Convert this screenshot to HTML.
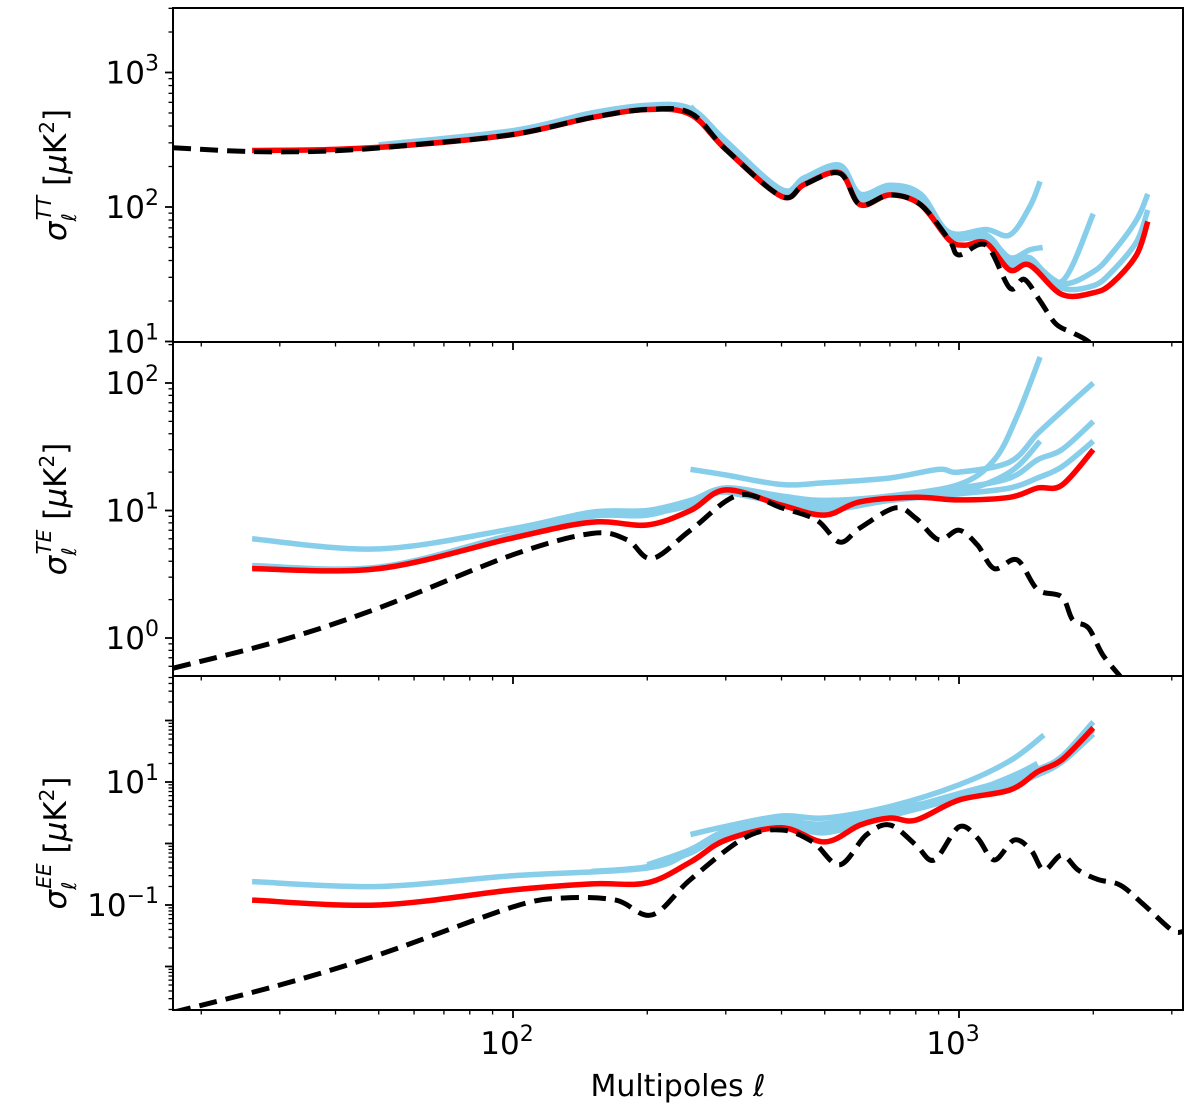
<!DOCTYPE html>
<html><head><meta charset="utf-8"><style>
body{margin:0;background:#fff;}
svg{display:block;font-family:"DejaVu Sans","Liberation Sans",sans-serif;}
</style></head><body>
<svg id="chart" width="1200" height="1116" viewBox="0 0 1200 1116" xmlns="http://www.w3.org/2000/svg"></svg>
<script>
// ---- data ----
const ttEll = [26,40,60,100,150,200,250,300,400,450,540,600,700,820,950,1030,1150,1300,1440,1700,2000,2200,2500,2650];
const ttRed = [263,268,290,346,462,531,487,268,120,147,180,104,123,104,57,52,54,34,37,22.4,23,27,44,78];
const ttBlackEll = [17.3,26,40,60,100,150,200,250,300,400,450,540,600,700,820,950,1000,1150,1300,1400,1520,1650,1800,1950,2200];
const ttBlack = [276,258,262,290,346,462,531,500,268,120,147,178,104,123,104,57,44,52,25,29,20,13.5,11.6,10,7];
const ttBlue1Ell = [50,100,150,200,250,300,400,450,540,600,700,820,950,1150,1300,1440,1520];
const ttBlue1 = [290,370,500,570,540,310,135,165,205,125,145,125,65,68,62,100,155];
const ttBlue2Ell = [250,300,400,450,540,600,700,820,950,1150,1300,1440,1700,2000];
const ttBlue2 = [560,300,130,160,195,118,140,120,63,62,40,42,28,89];
const ttBlue3Ell = [250,300,400,450,540,600,700,820,950,1150,1300,1440,1700,2000,2200,2500,2650];
const ttBlue3 = [540,290,128,155,190,112,135,115,62,60,38,40,27,33,45,80,125];
const ttBlue4Ell = [300,400,450,540,600,700,820,950,1150,1300,1440,1700,2000,2200,2500,2650];
const ttBlue4 = [280,125,152,185,110,130,112,60,58,36,38,25,26,33,55,95];
const ttBlue5Ell = [300,400,450,540,600,700,820,950,1150,1300,1440,1540];
const ttBlue5 = [285,127,157,195,116,138,118,62,60,42,48,50];

const teEll = [26,50,100,150,200,250,300,400,500,600,800,1000,1300,1500,1700,2000];
const teRed = [3.5,3.5,6.1,8.1,7.7,10,14.5,11,9.2,11.7,12.7,12.1,12.7,15,15.8,30];
const teBlackEll = [17.3,30,50,100,150,180,205,250,320,400,480,540,600,720,800,900,1000,1100,1200,1350,1500,1700,1800,1950,2100,2300];
const teBlack = [0.58,0.95,1.72,4.5,6.6,5.9,4.2,7.0,13.2,10.5,8.4,5.65,7.3,10.5,8.7,5.9,7.0,5.35,3.5,4.1,2.4,2.1,1.38,1.2,0.74,0.5];
const teBlue1Ell = [26,50,100,150,200,250,300,400,500,700,1000,1200,1350,1520];
const teBlue1 = [6.0,5.0,7.2,9.7,10,12,15,13,12,13,16,25,55,160];
const teBlue2Ell = [250,300,400,500,700,900,1000,1300,1500,1700,2000];
const teBlue2 = [21,19,16,16.5,18,21,20,24,40,60,100];
const teBlue3Ell = [26,50,100,150,200,250,300,400,500,700,1000,1300,1500,1700,2000];
const teBlue3 = [3.7,3.6,6.5,9,9.5,11,15,12.5,11,13,15,18,25,30,50];
const teBlue4Ell = [100,150,200,250,300,400,500,700,1000,1300,1520];
const teBlue4 = [6.5,9,9.2,11.5,14,12,11,12.5,14,20,35];
const teBlue5Ell = [300,400,500,700,1000,1300,1500,1700,2000];
const teBlue5 = [14,11.5,10,12,13.5,15,18,22,35];

const eeEll = [26,50,100,150,200,250,300,400,500,600,700,800,1000,1300,1500,1700,2000];
const eeRed = [0.12,0.1,0.176,0.22,0.23,0.5,1.14,1.8,1.06,2.0,2.6,2.4,5.1,7.4,14.6,23,76];
const eeBlackEll = [17.3,30,50,100,130,170,205,250,330,400,470,540,620,700,800,880,1000,1100,1200,1330,1450,1550,1700,1850,2050,2300,2600,3000,3180];
const eeBlack = [0.0018,0.005,0.0155,0.093,0.13,0.12,0.069,0.26,1.23,1.66,1.06,0.45,1.38,2.0,0.95,0.54,1.86,1.23,0.54,1.14,0.78,0.37,0.65,0.37,0.26,0.21,0.1,0.039,0.037];
const eeBlue1Ell = [26,50,100,200,250,300,400,500,700,1000,1300,1500];
const eeBlue1 = [0.24,0.2,0.3,0.4,0.75,1.5,2.3,2.1,3.5,6,12,20];
const eeBlue2Ell = [250,300,400,500,700,1000,1300,1550];
const eeBlue2 = [1.4,1.9,2.8,2.6,4,9,22,58];
const eeBlue3Ell = [200,250,300,400,500,700,1000,1300,1500,1700,2000];
const eeBlue3 = [0.45,0.8,1.6,2.4,2.0,3.2,6.5,11,16,26,95];
const eeBlue4Ell = [150,200,250,300,400,500,700,1000,1300,1500,1700,2000];
const eeBlue4 = [0.35,0.42,0.7,1.4,2.0,1.7,3.0,6,10,14,24,70];
const eeBlue5Ell = [300,400,500,700,1000,1300,1500,1700,2000];
const eeBlue5 = [1.3,2.0,1.5,2.8,5.5,9,13,21,60];

// ---- layout ----
const NS = "http://www.w3.org/2000/svg";
const svg = document.getElementById('chart');
const X0 = 173, X1 = 1183;
const xLogMin = 2 - 340/446, xLogMax = 3 + 224/446;
function xs(v){ return X0 + (Math.log10(v) - xLogMin) / (xLogMax - xLogMin) * (X1 - X0); }

const panels = [
  {name:'tt', top:8, bot:342, ref:207, refLog:2, dec:134.5, labels:[1,2,3], lab:'TT',
   series:[[ttBlue1Ell,ttBlue1],[ttBlue2Ell,ttBlue2],[ttBlue3Ell,ttBlue3],[ttBlue4Ell,ttBlue4],[ttBlue5Ell,ttBlue5]], red:[ttEll,ttRed], black:[ttBlackEll,ttBlack]},
  {name:'te', top:342, bot:676, ref:638, refLog:0, dec:127.5, labels:[0,1,2], lab:'TE',
   series:[[teBlue1Ell,teBlue1],[teBlue2Ell,teBlue2],[teBlue3Ell,teBlue3],[teBlue4Ell,teBlue4],[teBlue5Ell,teBlue5]], red:[teEll,teRed], black:[teBlackEll,teBlack]},
  {name:'ee', top:676, bot:1010, ref:843.5, refLog:0, dec:61.5, labels:[-1,1], lab:'EE',
   series:[[eeBlue1Ell,eeBlue1],[eeBlue2Ell,eeBlue2],[eeBlue3Ell,eeBlue3],[eeBlue4Ell,eeBlue4],[eeBlue5Ell,eeBlue5]], red:[eeEll,eeRed], black:[eeBlackEll,eeBlack]}
];

function mk(tag, attrs, parent){
  const e = document.createElementNS(NS, tag);
  for (const k in attrs) e.setAttribute(k, attrs[k]);
  (parent||svg).appendChild(e);
  return e;
}

function smooth(pts){
  let d = 'M' + pts[0][0].toFixed(1) + ',' + pts[0][1].toFixed(1);
  for (let i = 0; i < pts.length - 1; i++){
    const p0 = pts[i-1] || pts[i], p1 = pts[i], p2 = pts[i+1], p3 = pts[i+2] || p2;
    const c1x = p1[0] + (p2[0]-p0[0])/6, c1y = p1[1] + (p2[1]-p0[1])/6;
    const c2x = p2[0] - (p3[0]-p1[0])/6, c2y = p2[1] - (p3[1]-p1[1])/6;
    d += ' C' + c1x.toFixed(1)+','+c1y.toFixed(1)+' '+c2x.toFixed(1)+','+c2y.toFixed(1)+' '+p2[0].toFixed(1)+','+p2[1].toFixed(1);
  }
  return d;
}

const defs = mk('defs', {});
panels.forEach(p => {
  const cp = mk('clipPath', {id:'clip-'+p.name}, defs);
  mk('rect', {x:X0, y:p.top, width:X1-X0, height:p.bot-p.top}, cp);
});

panels.forEach(p => {
  const ys = v => p.ref - (Math.log10(v) - p.refLog) * p.dec;
  const g = mk('g', {'clip-path':'url(#clip-'+p.name+')'});
  
  
  const path = (ell, vals) => smooth(ell.map((e,i)=>[xs(e), ys(vals[i])]));
  p.series.forEach((s,i) => {
    const l = mk('path', {d:path(s[0],s[1]), fill:'none', stroke:'#87ceeb', 'stroke-width':5.5, 'stroke-linejoin':'round'}, g);
    
    
  });
  const r = mk('path', {d:path(p.red[0],p.red[1]), fill:'none', stroke:'#ff0000', 'stroke-width':5.5, 'stroke-linejoin':'round'}, g);
  
  
  const b = mk('path', {d:path(p.black[0],p.black[1]), fill:'none', stroke:'#000', 'stroke-width':5, 'stroke-dasharray':'18,9'}, g);
  
  

  const f = mk('rect', {x:X0, y:p.top, width:X1-X0, height:p.bot-p.top, fill:'none', stroke:'#000', 'stroke-width':2});
  
  

  const lo = p.refLog - (p.bot - p.ref)/p.dec, hi = p.refLog + (p.ref - p.top)/p.dec;
  for (let d = Math.floor(lo); d <= Math.ceil(hi); d++){
    for (let m = 1; m <= 9; m++){
      const lv = d + Math.log10(m);
      if (lv < lo - 1e-6 || lv > hi + 1e-6) continue;
      const y = p.ref - (lv - p.refLog)*p.dec;
      const len = m===1 ? 8 : 4.5;
      mk('line', {x1:X0-len, x2:X0, y1:y, y2:y, stroke:'#000', 'stroke-width':m===1?1.8:1.3});
    }
  }
  p.labels.forEach(d => {
    const y = p.ref - (d - p.refLog)*p.dec;
    const t = mk('text', {x:X0-14, y:y+11, 'text-anchor':'end', 'font-size':31, fill:'#000'});
    
    
    t.innerHTML = '10<tspan dy="-13" font-size="22">' + (d<0?'\u2212'+(-d):d) + '</tspan>';
  });
  const cy = (p.top+p.bot)/2;
  const tt = mk('text', {x:0, y:0, transform:'translate(66,'+cy+') rotate(-90)', 'text-anchor':'middle', 'font-size':31, fill:'#000'});
  
  
  tt.innerHTML = '<tspan font-style="italic">σ</tspan><tspan font-style="italic" font-size="20" dy="10">ℓ</tspan><tspan font-style="italic" font-size="20" dy="-25" dx="-7">' + p.lab + '</tspan><tspan dy="15"> [</tspan><tspan font-style="italic">μ</tspan>K<tspan dy="-12" font-size="20">2</tspan><tspan dy="12">]</tspan>';

  for (let d = 1; d <= 3; d++){
    for (let m = 1; m <= 9; m++){
      const v = m*Math.pow(10,d);
      const x = xs(v);
      if (x < X0-0.5 || x > X1+0.5) continue;
      const len = m===1 ? 8 : 4.5;
      mk('line', {x1:x, x2:x, y1:p.bot, y2:p.bot+len, stroke:'#000', 'stroke-width':m===1?1.8:1.3});
    }
  }
});

[2,3].forEach(d => {
  const t = mk('text', {x:xs(Math.pow(10,d))-6, y:1054, 'text-anchor':'middle', 'font-size':31, fill:'#000'});
  
  
  t.innerHTML = '10<tspan dy="-13" font-size="22">' + d + '</tspan>';
});
const xt = mk('text', {x:678, y:1096, 'text-anchor':'middle', 'font-size':30, fill:'#000'});


xt.innerHTML = 'Multipoles <tspan font-style="italic">ℓ</tspan>';
</script>
</body></html>
